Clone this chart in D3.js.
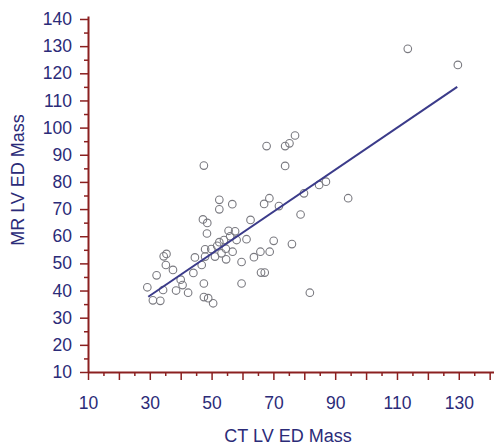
<!DOCTYPE html>
<html>
<head>
<meta charset="utf-8">
<script src="https://cdn.jsdelivr.net/npm/d3@7"></script>
<style>
  body { margin: 0; background: #fff; }
  text { font-family: "Liberation Sans", Arial, sans-serif; }
</style>
</head>
<body>
<div id="chartContainer"></div>
<script>
const ctMass = [
  29.2, 32.2, 31.0, 33.4, 34.3, 34.5, 35.4, 35.2, 37.5, 38.5,
  40.0, 40.6, 42.4, 44.1, 44.6, 46.8, 47.9, 47.9, 49.9, 47.5,
  47.5, 48.9, 50.5, 47.5, 47.2, 48.6, 48.5, 52.5, 52.5, 56.7,
  51.1, 51.8, 52.5, 53.2, 54.6, 54.7, 54.0, 56.0, 55.5, 57.6,
  56.8, 58.1, 59.7, 61.3, 62.6, 59.7, 63.7, 65.8, 68.8, 70.1,
  76.0, 66.0, 67.2, 67.0, 68.7, 71.8, 78.8, 79.9, 84.8, 87.0,
  94.2, 81.8, 67.8, 73.8, 75.2, 77.0, 73.8, 113.5, 129.7
];
const mrMass = [
  41.2, 45.6, 36.4, 36.2, 40.2, 52.6, 53.5, 49.4, 47.6, 40.0,
  44.0, 42.0, 39.2, 46.5, 52.2, 49.4, 52.5, 55.2, 55.3, 42.6,
  37.6, 37.2, 35.3, 86.0, 66.2, 64.9, 61.0, 73.4, 69.9, 71.8,
  52.5, 56.5, 57.8, 53.7, 55.4, 51.5, 58.6, 60.0, 62.0, 61.8,
  54.3, 58.6, 50.5, 58.9, 66.0, 42.6, 52.3, 54.3, 54.3, 58.3,
  57.1, 46.6, 46.6, 71.9, 74.0, 71.1, 68.0, 75.8, 78.9, 80.1,
  74.0, 39.2, 93.2, 93.2, 94.2, 97.1, 85.9, 129.0, 123.1
];

// regression line
const fitSlope = 0.773;
const fitIntercept = 14.9;
const fitRange = [29.5, 129.5];

const xTicks = d3.range(10, 141, 5);
const yTicks = d3.range(10, 141, 5);

const W = 494, H = 447;
const axisColor = "#8b2020";
const labelColor = "#2b2b78";

const svg = d3
  .select("#chartContainer")
  .append("svg")
  .attr("width", W)
  .attr("height", H);

const x = d3.scaleLinear().domain([10, 141.4]).range([88, 494]);
const y = d3.scaleLinear().domain([10, 141.1]).range([372, 16]);

// x axis
const gx = svg
  .append("g")
  .attr("transform", "translate(0," + y(10) + ")")
  .call(
    d3
      .axisBottom(x)
      .tickValues(xTicks)
      .tickSize(8)
      .tickSizeOuter(0)
      .tickPadding(17)
      .tickFormat((d) => ((d - 10) % 20 === 0 && d <= 130 ? d : ""))
  );
gx.selectAll(".tick line")
  .attr("y2", (d) => (d % 10 === 0 ? 8 : 4));

// y axis
const gy = svg
  .append("g")
  .attr("transform", "translate(" + x(10) + ",0)")
  .call(
    d3
      .axisLeft(y)
      .tickValues(yTicks)
      .tickSize(8)
      .tickSizeOuter(0)
      .tickPadding(8)
      .tickFormat((d) => (d % 10 === 0 ? d : ""))
  );
gy.selectAll(".tick line")
  .attr("x2", (d) => (d % 10 === 0 ? -8 : -4));

[gx, gy].forEach((g) => {
  g.select(".domain").attr("stroke", axisColor).attr("stroke-width", 2);
  g.selectAll(".tick line").attr("stroke", axisColor).attr("stroke-width", 1.5);
  g.selectAll(".tick text")
    .attr("fill", labelColor)
    .style("font-size", "17.5px")
    .style("font-family", "'Liberation Sans', Arial, sans-serif");
});

// points
svg
  .append("g")
  .selectAll("circle")
  .data(ctMass.map((v, i) => [v, mrMass[i]]))
  .enter()
  .append("circle")
  .attr("cx", (d) => x(d[0]))
  .attr("cy", (d) => y(d[1]))
  .attr("r", 3.8)
  .attr("fill", "none")
  .attr("stroke", "#7a7a80")
  .attr("stroke-width", 1.1);

// fitted line
svg
  .append("line")
  .attr("x1", x(fitRange[0]))
  .attr("y1", y(fitSlope * fitRange[0] + fitIntercept))
  .attr("x2", x(fitRange[1]))
  .attr("y2", y(fitSlope * fitRange[1] + fitIntercept))
  .attr("stroke", "#3b3b8a")
  .attr("stroke-width", 2);

// axis titles
svg
  .append("text")
  .attr("x", 288)
  .attr("y", 442)
  .attr("text-anchor", "middle")
  .attr("fill", labelColor)
  .style("font-size", "18px")
  .text("CT LV ED Mass");

svg
  .append("text")
  .attr("transform", "translate(24,180) rotate(-90)")
  .attr("text-anchor", "middle")
  .attr("fill", labelColor)
  .style("font-size", "18px")
  .text("MR LV ED Mass");
</script>
</body>
</html>
